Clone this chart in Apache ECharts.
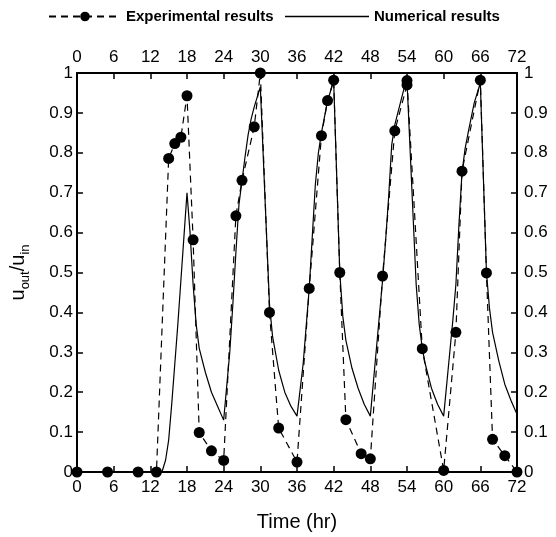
<!DOCTYPE html>
<html>
<head>
<meta charset="utf-8">
<script src="https://cdn.jsdelivr.net/npm/echarts@6/dist/echarts.min.js"></script>
<style>
html,body{margin:0;padding:0;background:#fff;}
#chart{width:556px;height:537px;}
</style>
</head>
<body>
<div id="chart"></div>
<script>
// Experimental results (dashed line with dots)
var expTime  = [0, 5, 10, 13, 15, 16, 17, 18, 19, 20, 22, 24, 26, 27, 29, 30, 31.5, 33, 36, 38, 40, 41, 42, 43, 44, 46.5, 48, 50, 52, 54, 54, 56.5, 60, 62, 63, 66, 67, 68, 70, 72];
var expValue = [0, 0, 0, 0, 0.786, 0.823, 0.839, 0.943, 0.582, 0.099, 0.053, 0.029, 0.642, 0.731, 0.865, 1.0, 0.40, 0.110, 0.025, 0.46, 0.843, 0.931, 0.982, 0.50, 0.131, 0.046, 0.033, 0.491, 0.855, 0.970, 0.981, 0.309, 0.004, 0.350, 0.754, 0.982, 0.499, 0.082, 0.041, 0];

// Numerical results (solid line)
var numTime  = [0, 13.9, 14.5, 15, 15.5, 16, 16.5, 17, 17.5, 18, 18.5, 19, 19.5, 20, 21, 22, 23, 24, 25, 25.5, 26, 26.5, 27, 27.5, 28, 28.5, 29, 29.5, 30, 31, 31.5, 32, 33, 34, 35, 36, 37, 38, 38.5, 39, 39.5, 40, 40.5, 41, 41.5, 42, 43, 43.5, 44, 45, 46, 47, 48, 49, 50, 50.5, 51, 51.5, 52, 52.5, 53, 53.5, 54, 55, 55.5, 56, 56.5, 57, 58, 59, 60, 61, 61.5, 62, 62.5, 63, 63.5, 64, 65, 66, 67, 67.5, 68, 69, 70, 71, 72];
var numValue = [0, 0, 0.03, 0.08, 0.17, 0.27, 0.37, 0.48, 0.59, 0.70, 0.60, 0.47, 0.37, 0.31, 0.25, 0.20, 0.165, 0.13, 0.30, 0.42, 0.55, 0.67, 0.73, 0.79, 0.845, 0.885, 0.915, 0.94, 0.965, 0.60, 0.42, 0.34, 0.255, 0.20, 0.165, 0.14, 0.27, 0.46, 0.59, 0.72, 0.80, 0.85, 0.89, 0.93, 0.955, 0.98, 0.50, 0.39, 0.33, 0.26, 0.21, 0.17, 0.14, 0.31, 0.48, 0.58, 0.69, 0.82, 0.87, 0.90, 0.93, 0.96, 0.98, 0.64, 0.47, 0.37, 0.31, 0.27, 0.21, 0.17, 0.14, 0.30, 0.38, 0.47, 0.62, 0.75, 0.81, 0.85, 0.925, 0.975, 0.50, 0.41, 0.35, 0.28, 0.22, 0.18, 0.145];

var xTicks = {min: 0, max: 72, interval: 6};
var yTicks = {min: 0, max: 1, interval: 0.1};

function pairs(xs, ys) { return xs.map(function (x, i) { return [x, ys[i]]; }); }

var FONT = '"Liberation Sans", Arial, sans-serif';
var axisCommon = {
  type: 'value',
  axisLine: {show: true, onZero: false, lineStyle: {color: '#000', width: 2}},
  axisTick: {show: true, inside: true, length: 6, lineStyle: {color: '#000', width: 1.5}},
  splitLine: {show: false},
  axisLabel: {color: '#000', fontSize: 17, fontFamily: FONT}
};
function xAxisDef(pos) {
  return Object.assign({}, axisCommon, {
    position: pos, min: xTicks.min, max: xTicks.max, interval: xTicks.interval,
    axisLabel: Object.assign({}, axisCommon.axisLabel, {margin: 7})
  });
}
function yAxisDef(pos) {
  return Object.assign({}, axisCommon, {
    position: pos, min: yTicks.min, max: yTicks.max, interval: yTicks.interval,
    axisLabel: Object.assign({}, axisCommon.axisLabel, {
      margin: pos === 'left' ? 4 : 7,
      formatter: function (v) { return String(+v.toFixed(1)); }
    })
  });
}

var xb = xAxisDef('bottom');
xb.name = 'Time (hr)';
xb.nameLocation = 'middle';
xb.nameGap = 40;
xb.nameTextStyle = {color: '#000', fontSize: 20, fontFamily: FONT};
var xt = xAxisDef('top');
var yl = yAxisDef('left');
yl.name = '{a|u}{b|out}{a|/u}{b|in}';
yl.nameLocation = 'middle';
yl.nameRotate = 90;
yl.nameGap = 45;
yl.nameTextStyle = {
  color: '#000', fontFamily: FONT, fontSize: 20,
  rich: {
    a: {fontSize: 20, fontFamily: FONT, color: '#000', lineHeight: 24, verticalAlign: 'top'},
    b: {fontSize: 13, fontFamily: FONT, color: '#000', lineHeight: 24, verticalAlign: 'bottom', padding: [10, 0, 0, 0]}
  }
};
var yr = yAxisDef('right');

var chart = echarts.init(document.getElementById('chart'), null, {renderer: 'canvas'});
chart.setOption({
  animation: false,
  backgroundColor: '#fff',
  grid: {left: 70, right: 39, top: 73, bottom: 56, containLabel: false},
  legend: [
    {data: ['Experimental results'], left: 43, top: 4, itemWidth: 72, itemHeight: 12, itemGap: 5,
     textStyle: {color: '#000', fontSize: 15, fontWeight: 'bold', fontFamily: FONT}},
    {data: [{name: 'Numerical results', icon: 'rect'}], left: 280, top: 4, itemWidth: 84, itemHeight: 1.3, itemGap: 5,
     itemStyle: {color: '#000'},
     textStyle: {color: '#000', fontSize: 15, fontWeight: 'bold', fontFamily: FONT}}
  ],
  xAxis: [xb, xt],
  yAxis: [yl, yr],
  series: [
    {
      name: 'Numerical results', type: 'line', xAxisIndex: 0, yAxisIndex: 0,
      data: pairs(numTime, numValue), showSymbol: false, symbol: 'none',
      lineStyle: {color: '#000', width: 1.2, type: 'solid'}, itemStyle: {color: '#000'},
      z: 2
    },
    {
      name: 'Experimental results', type: 'line', xAxisIndex: 0, yAxisIndex: 0,
      data: pairs(expTime, expValue), symbol: 'circle', symbolSize: 11, showSymbol: true,
      lineStyle: {color: '#000', width: 1.2, type: [7, 5]}, itemStyle: {color: '#000'},
      z: 3
    }
  ]
});
</script>
</body>
</html>
